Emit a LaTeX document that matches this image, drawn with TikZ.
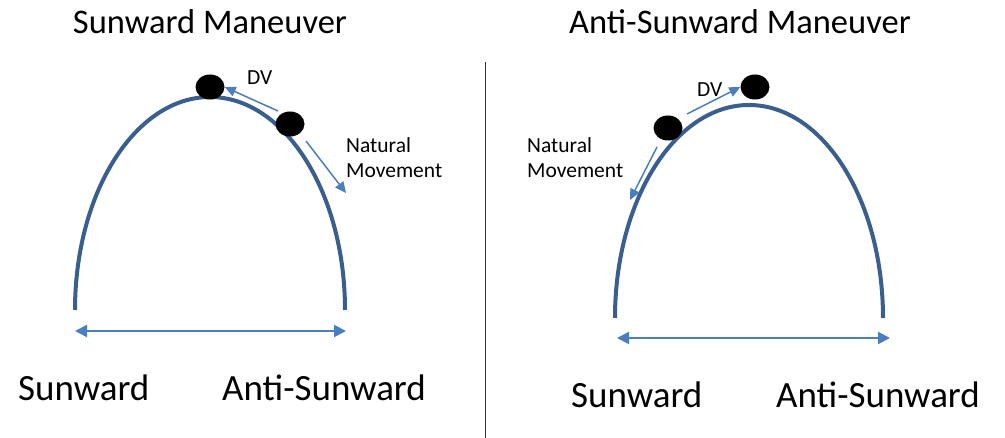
\documentclass[tikz,border=0pt]{standalone}
\usepackage{fontspec}
\setmainfont{Carlito}
\usetikzlibrary{arrows.meta,shapes.geometric}
\definecolor{arch}{HTML}{3A5F8F}
\definecolor{arr}{HTML}{4A7EBF}
\tikzset{
  archline/.style={arch, line width=4pt},
  ball/.style={ellipse, fill=black, minimum width=29pt, minimum height=25pt, inner sep=0pt},
  blue arrow/.style={arr, line width=1.5pt, -{Triangle[length=11pt,width=10pt]}},
  dbl arrow/.style={arr, line width=2pt, {Triangle[length=12pt,width=12pt]}-{Triangle[length=12pt,width=12pt]}},
  title/.style={font=\fontsize{34.5}{38}\selectfont, inner sep=0pt},
  big/.style={font=\fontsize{37}{40}\selectfont, inner sep=0pt},
  small/.style={font=\fontsize{21.5}{25}\selectfont, inner sep=0pt, align=left}
}
\begin{document}
\begin{tikzpicture}[x=1pt,y=-1pt]
\useasboundingbox (0,0) rectangle (1005,438);
% titles
\node[title] (t1) at (210,22) {Sunward Maneuver};
\node[title] (t2) at (740,22) {Anti-Sunward Maneuver};
% divider
\coordinate (d1) at (485,62);
\coordinate (d2) at (485,438);
\draw[line width=1pt, black!80] (d1) -- (d2);
% left arch
\draw[archline] (75,310) arc[start angle=180, end angle=360, x radius=135, y radius=213];
% right arch
\draw[archline] (615,318) arc[start angle=180, end angle=360, x radius=134, y radius=213];
% left balls
\node[ball] (b1) at (210,87) {};
\node[ball] (b2) at (290,124) {};
% right balls
\node[ball] (b3) at (668,128) {};
\node[ball] (b4) at (755,87) {};
% left arrows
\coordinate (la1) at (278,111);
\draw[blue arrow] (la1) -- (b1.east);
\node[small, anchor=south west] (dv1) at (247,85) {DV};
\coordinate (ln1) at (306,141);
\coordinate (ln2) at (346,193);
\draw[blue arrow] (ln1) -- (ln2);
\node[small, anchor=north west] (nm1) at (346,137) {Natural\\Movement};
% right arrows
\coordinate (ra1) at (687,114);
\draw[blue arrow] (ra1) -- (b4.west);
\node[small, anchor=south west] (dv2) at (697,97) {DV};
\coordinate (rn1) at (657,147);
\coordinate (rn2) at (630,200);
\draw[blue arrow] (rn1) -- (rn2);
\node[small, anchor=north west] (nm2) at (527,137) {Natural\\Movement};
% bottom arrows
\coordinate (lb1) at (75,331);
\coordinate (lb2) at (346,331);
\draw[dbl arrow] (lb1) -- (lb2);
\coordinate (rb1) at (617,338);
\coordinate (rb2) at (890,338);
\draw[dbl arrow] (rb1) -- (rb2);
% bottom labels
\node[big, anchor=west] (s1) at (18,388) {Sunward};
\node[big, anchor=west] (a1) at (222,388) {Anti-Sunward};
\node[big, anchor=west] (s2) at (571,395) {Sunward};
\node[big, anchor=west] (a2) at (776,395) {Anti-Sunward};
\end{tikzpicture}
\end{document}
